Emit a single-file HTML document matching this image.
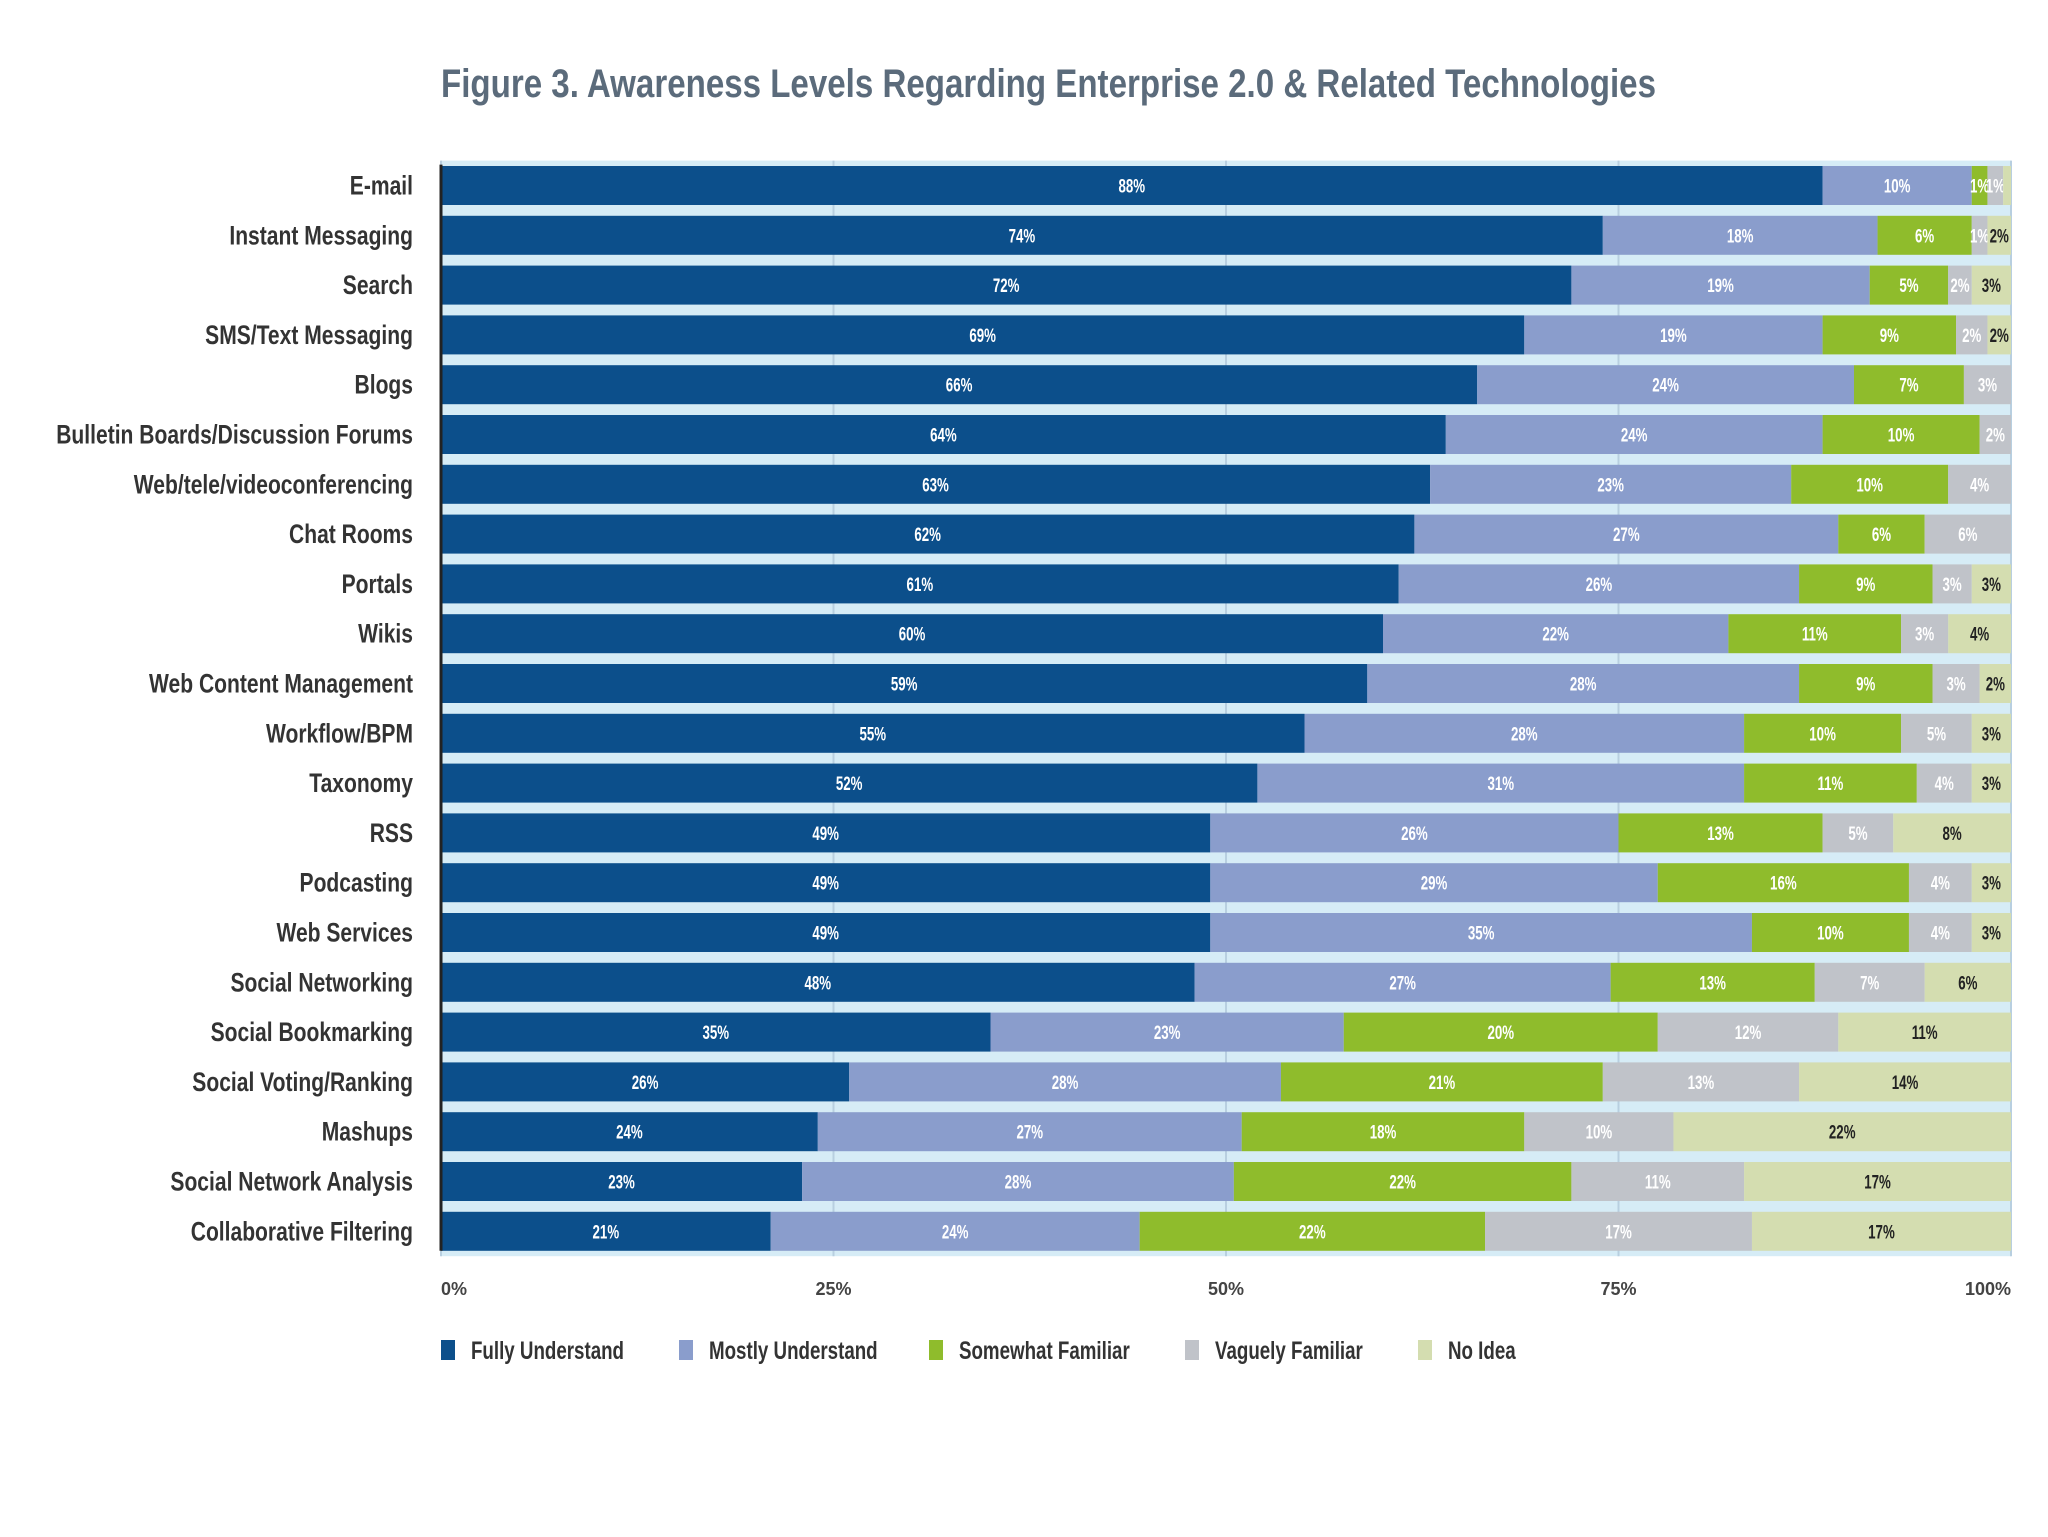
<!DOCTYPE html>
<html><head><meta charset="utf-8"><style>
html,body{margin:0;padding:0;background:#fff;}
svg{display:block;}
</style></head><body>
<svg id="chart" width="2048" height="1537" xmlns="http://www.w3.org/2000/svg" font-family="Liberation Sans, sans-serif">
<text x="441" y="97" font-size="40" font-weight="bold" fill="#5b6b7b" textLength="1215" lengthAdjust="spacingAndGlyphs">Figure 3. Awareness Levels Regarding Enterprise 2.0 &amp; Related Technologies</text>
<g id="plot"></g>
</svg>
<script>
const categories = ["E-mail","Instant Messaging","Search","SMS/Text Messaging","Blogs","Bulletin Boards/Discussion Forums","Web/tele/videoconferencing","Chat Rooms","Portals","Wikis","Web Content Management","Workflow/BPM","Taxonomy","RSS","Podcasting","Web Services","Social Networking","Social Bookmarking","Social Voting/Ranking","Mashups","Social Network Analysis","Collaborative Filtering"];
const seriesNames = ["Fully Understand","Mostly Understand","Somewhat Familiar","Vaguely Familiar","No Idea"];
const fullyUnderstand = [88,74,72,69,66,64,63,62,61,60,59,55,52,49,49,49,48,35,26,24,23,21];
const mostlyUnderstand = [9.5,17.5,19,19,24,24,23,27,25.5,22,27.5,28,31,26,28.5,34.5,26.5,22.5,27.5,27,27.5,23.5];
const somewhatFamiliar = [1,6,5,8.5,7,10,10,5.5,8.5,11,8.5,10,11,13,16,10,13,20,20.5,18,21.5,22];
const vaguelyFamiliar = [1,1,1.5,2,3,2,4,5.5,2.5,3,3,4.5,3.5,4.5,4,4,7,11.5,12.5,9.5,11,17];
const noIdea = [0.5,1.5,2.5,1.5,0,0,0,0,2.5,4,2,2.5,2.5,7.5,2.5,2.5,5.5,11,13.5,21.5,17,16.5];
const tickValues = [0,25,50,75,100];
const tickLabels = ["0%","25%","50%","75%","100%"];

const colors = ["#0c4f8b","#8a9dcc","#8fbc2c","#c0c3c9","#d4ddb0"];
const textColors = ["#fff","#fff","#fff","#fff","#222"];
const X0 = 441, X1 = 2011, Y0 = 185.5, PITCH = 49.8, BH = 39;
const xScale = v => X0 + (X1 - X0) * v / 100;
const yScale = i => Y0 + i * PITCH;
const NS = "http://www.w3.org/2000/svg";
const g = document.getElementById("plot");
function mk(tag, attrs, parent) {
  const e = document.createElementNS(NS, tag);
  for (const k in attrs) e.setAttribute(k, attrs[k]);
  (parent || g).appendChild(e);
  return e;
}
const bg = mk("rect", {x: X0, y: yScale(0) - PITCH/2, width: X1 - X0, height: PITCH * categories.length, fill: "#d6ecf6"});


tickValues.forEach((t, i) => {
  const ln = mk("line", {x1: xScale(t), x2: xScale(t), y1: yScale(0) - PITCH/2, y2: yScale(categories.length-1) + PITCH/2, stroke: "#b8cfe0", "stroke-width": 2});
  
  
  const tx = mk("text", {x: xScale(t), y: 1295, "font-size": 18, "font-weight": "bold", fill: "#444", "text-anchor": i === 0 ? "start" : (i === 4 ? "end" : "middle")});
  tx.textContent = tickLabels[i];
  
  
});
const series = [fullyUnderstand, mostlyUnderstand, somewhatFamiliar, vaguelyFamiliar, noIdea];
categories.forEach((c, i) => {
  const yc = yScale(i);
  const lab = mk("text", {x: 413, y: yc + 9, "font-size": 27, "font-weight": "bold", fill: "#333", "text-anchor": "end", transform: `translate(413 0) scale(0.78 1) translate(-413 0)`});
  lab.textContent = c;
  
  
  let cum = 0;
  series.forEach((s, k) => {
    const v = s[i];
    const r = mk("rect", {x: xScale(cum), y: yc - BH/2, width: Math.max(0, xScale(cum + v) - xScale(cum)), height: BH, fill: colors[k]});
    
    
    if (v >= 1) {
      const t = mk("text", {x: xScale(cum + v/2), y: yc + 7, "font-size": 19, "font-weight": "bold", fill: textColors[k], "text-anchor": "middle", transform: `translate(${xScale(cum + v/2)} 0) scale(0.7 1) translate(${-xScale(cum + v/2)} 0)`});
      t.textContent = Math.round(v) + "%";
      
      
    }
    cum += v;
  });
});
const axis = mk("line", {x1: X0, x2: X0, y1: yScale(0) - PITCH/2 + 4, y2: yScale(categories.length-1) + BH/2, stroke: "#222", "stroke-width": 3});


const legX = [441, 679, 929, 1185, 1418];
seriesNames.forEach((n, k) => {
  const sw = mk("rect", {x: legX[k], y: 1340, width: 14, height: 20, fill: colors[k]});
  
  
  const t = mk("text", {x: legX[k] + 30, y: 1359, "font-size": 25, "font-weight": "bold", fill: "#333", transform: `translate(${legX[k]+30} 0) scale(0.75 1) translate(${-(legX[k]+30)} 0)`});
  t.textContent = n;
  
  
});
</script>
</body></html>
